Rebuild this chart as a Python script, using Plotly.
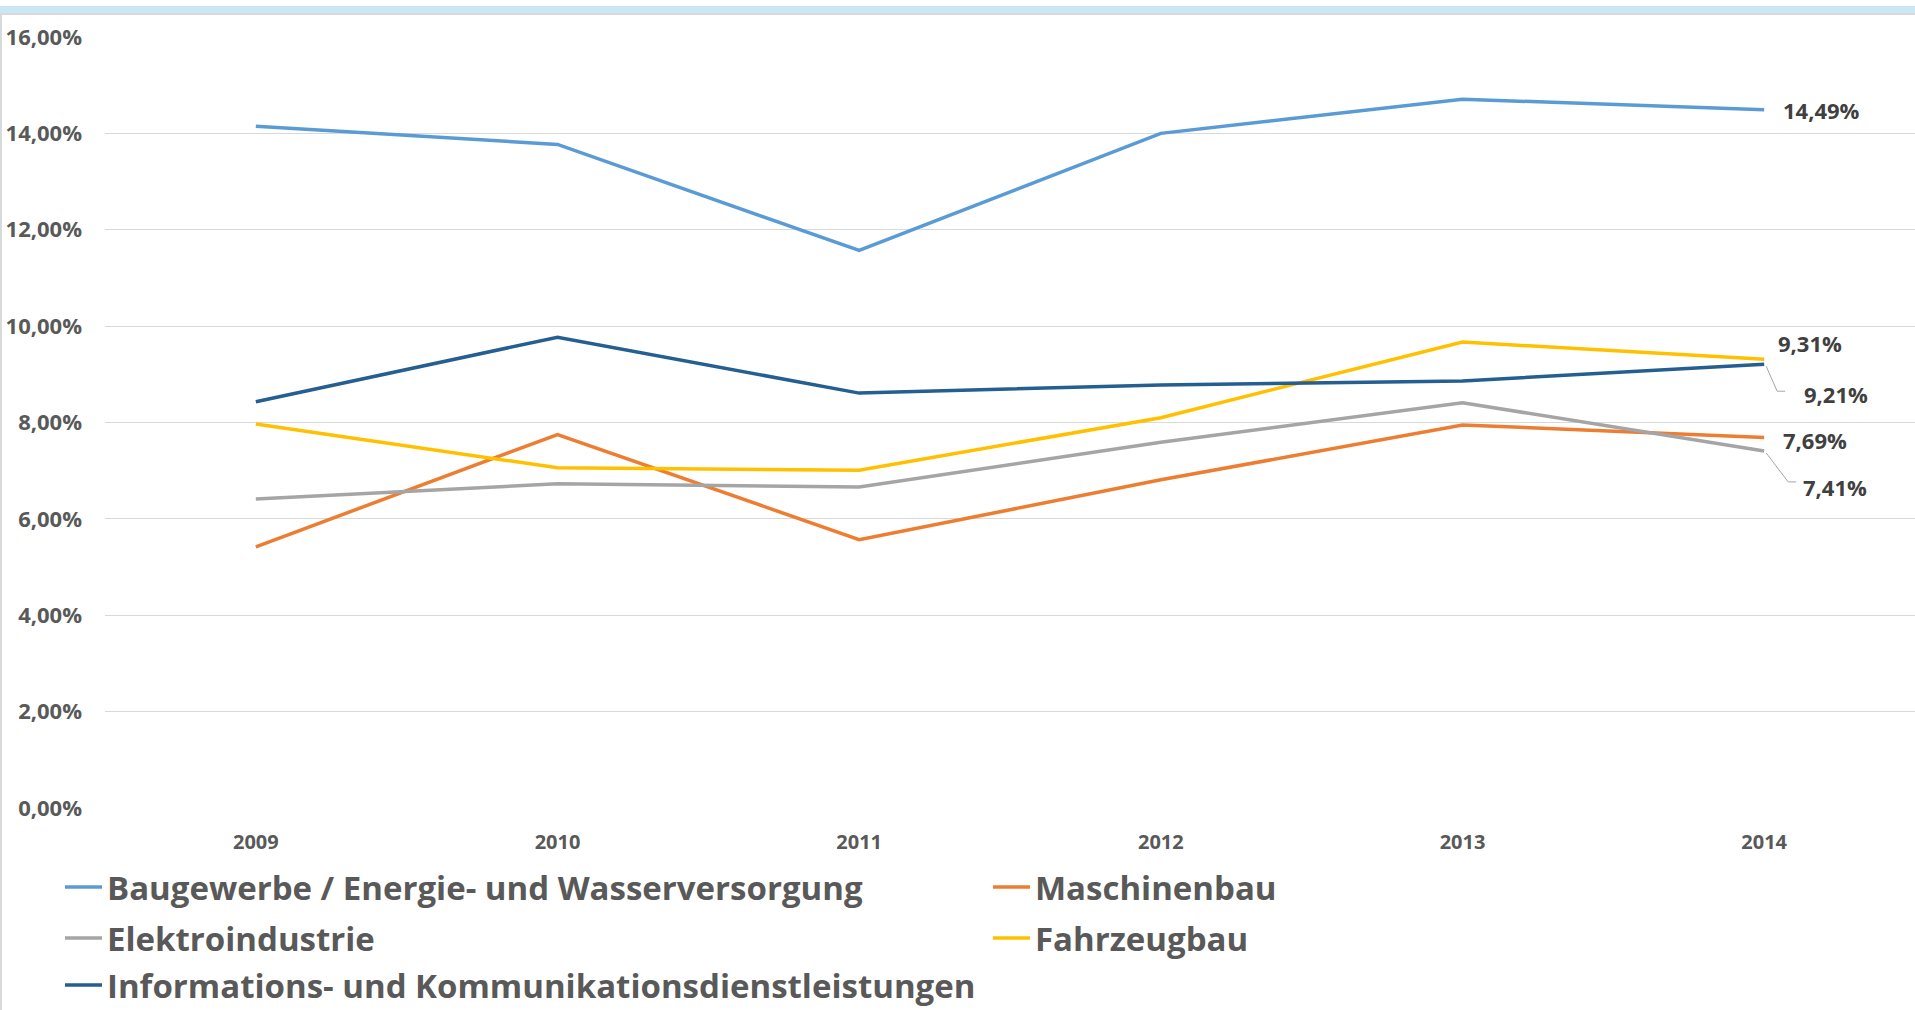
import plotly.graph_objects as go

years = ["2009", "2010", "2011", "2012", "2013", "2014"]
series_names = [
    "Baugewerbe / Energie- und Wasserversorgung",
    "Maschinenbau",
    "Elektroindustrie",
    "Fahrzeugbau",
    "Informations- und Kommunikationsdienstleistungen",
]
baugewerbe = [14.15, 13.77, 11.57, 14.00, 14.71, 14.49]
maschinenbau = [5.42, 7.75, 5.57, 6.81, 7.95, 7.69]
elektro = [6.41, 6.73, 6.66, 7.59, 8.41, 7.41]
fahrzeugbau = [7.97, 7.06, 7.01, 8.10, 9.67, 9.31]
iuk = [8.43, 9.77, 8.61, 8.78, 8.86, 9.21]
series_values = [baugewerbe, maschinenbau, elektro, fahrzeugbau, iuk]
colors = ["#5B9BD5", "#ED7D31", "#A5A5A5", "#FFC000", "#255E91"]
legend_rows = ["legend", "legend", "legend2", "legend2", "legend3"]

y_tick_values = [0, 2, 4, 6, 8, 10, 12, 14, 16]
y_tick_labels = ["0,00%", "2,00%", "4,00%", "6,00%", "8,00%", "10,00%", "12,00%", "14,00%", "16,00%"]

W, H = 1915, 1010
L, R, T, B = 105, 0, 37, 202
PW, PH = W - L - R, H - T - B

def px_x(p):
    return (p - L) / PW

def px_y(p):
    return (H - B - p) / PH

FONT = "Open Sans"

fig = go.Figure()
for name, vals, col, lg in zip(series_names, series_values, colors, legend_rows):
    fig.add_trace(go.Scatter(
        x=years, y=vals, name=name, mode="lines",
        line=dict(color=col, width=3.5),
        hoverinfo="skip", legend=lg,
    ))

def fmt(v):
    return f"{v:.2f}".replace(".", ",") + "%"

# end labels: (series index, xshift, yshift)
label_specs = [(0, 17, 0), (3, 12, 16), (1, 17, -3), (4, 38, -30), (2, 37, -36)]
for idx, xs, ys in label_specs:
    v = series_values[idx][-1]
    fig.add_annotation(
        x=len(years) - 1, y=v, xref="x", yref="y", text=fmt(v), showarrow=False,
        xanchor="left", yanchor="middle", xshift=xs, yshift=ys,
        font=dict(family=FONT, size=22, color="#404040", weight="bold"),
    )

# leader lines for 9,21% and 7,41% (pixel offsets from the data point)
leaders = [(4, [(2, -2), (13, -27), (21, -27)]), (2, [(2, -2), (24, -31), (32, -31)])]
for idx, pts in leaders:
    v = series_values[idx][-1]
    for (ax0, ay0), (ax1, ay1) in zip(pts[:-1], pts[1:]):
        fig.add_shape(
            type="line", xref="x", yref="y", xsizemode="pixel", ysizemode="pixel",
            xanchor=len(years) - 1, yanchor=v, x0=ax0, y0=ay0, x1=ax1, y1=ay1,
            line=dict(color="#A6A6A6", width=1),
        )

# frame decorations (top band, left border)
fig.add_shape(type="rect", xref="paper", yref="paper",
              x0=px_x(0), x1=px_x(W), y0=px_y(13), y1=px_y(6),
              fillcolor="#C9E7F5", line=dict(width=0), layer="below")
fig.add_shape(type="rect", xref="paper", yref="paper",
              x0=px_x(0), x1=px_x(W), y0=px_y(15), y1=px_y(13),
              fillcolor="#D9D9D9", line=dict(width=0), layer="below")
fig.add_shape(type="rect", xref="paper", yref="paper",
              x0=px_x(0), x1=px_x(2), y0=px_y(H), y1=px_y(13),
              fillcolor="#D9D9D9", line=dict(width=0), layer="below")

legend_common = dict(
    orientation="h", xanchor="left", yanchor="middle",
    entrywidth=876, entrywidthmode="pixels", itemwidth=37,
    font=dict(family=FONT, size=33, color="#595959", weight="bold"),
    itemclick=False, itemdoubleclick=False,
    bgcolor="rgba(0,0,0,0)",
)

fig.update_layout(
    width=W, height=H,
    margin=dict(l=L, r=R, t=T, b=B, pad=0, autoexpand=False),
    paper_bgcolor="white", plot_bgcolor="white",
    font=dict(family=FONT, color="#595959"),
    showlegend=True,
    legend=dict(x=px_x(60), y=px_y(887), **legend_common),
    legend2=dict(x=px_x(60), y=px_y(938), **legend_common),
    legend3=dict(x=px_x(60), y=px_y(985), **legend_common),
    xaxis=dict(
        type="category", range=[-0.5, 5.5], showgrid=False, zeroline=False,
        showline=False, ticks="", ticklabelstandoff=20,
        tickfont=dict(family=FONT, size=20, color="#595959", weight="bold"),
        fixedrange=True,
    ),
    yaxis=dict(
        range=[0, 16], tickvals=y_tick_values, ticktext=y_tick_labels,
        showgrid=True, gridcolor="#D9D9D9", gridwidth=1, zeroline=False,
        showline=False, ticks="", ticklabelstandoff=22,
        tickfont=dict(family=FONT, size=22, color="#595959", weight="bold"),
        fixedrange=True,
    ),
)

fig.write_html("out.html", config={"displayModeBar": False},
               post_script="document.body.style.margin='0';document.body.style.overflow='hidden';")
